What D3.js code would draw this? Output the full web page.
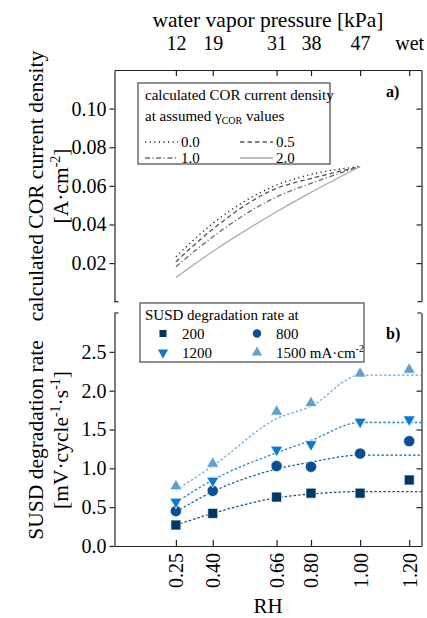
<!DOCTYPE html>
<html>
<head>
<meta charset="utf-8">
<script src="https://cdn.jsdelivr.net/npm/d3@7"></script>
<style>
  body { margin: 0; background: #fff; }
  svg text { font-family: 'Liberation Serif', 'Times New Roman', serif; }
</style>
</head>
<body>
<script>
// x positions shared by both panels (relative humidity) and the top pressure labels
const rhTicks = [0.25, 0.40, 0.66, 0.80, 1.00, 1.20];
const pressureLabels = ["12", "19", "31", "38", "47", "wet"];

// panel a) calculated COR current density for assumed gamma values
const corRH = [0.25, 0.40, 0.66, 0.80, 1.00];
const cor00 = [0.0233, 0.0405, 0.0604, 0.0659, 0.070];
const cor05 = [0.0207, 0.0376, 0.0587, 0.0638, 0.070];
const cor10 = [0.0181, 0.0336, 0.0543, 0.0613, 0.070];
const cor20 = [0.0125, 0.0260, 0.0466, 0.0566, 0.070];
const corTicks = [0.02, 0.04, 0.06, 0.08, 0.10];

// panel b) SUSD degradation rates
const rateRH = [0.25, 0.40, 0.66, 0.80, 1.00, 1.20];
const rate200 = [0.27, 0.42, 0.63, 0.68, 0.68, 0.85];
const rate800 = [0.45, 0.71, 1.03, 1.02, 1.19, 1.35];
const rate1200 = [0.57, 0.84, 1.24, 1.31, 1.60, 1.63];
const rate1500 = [0.77, 1.06, 1.73, 1.84, 2.22, 2.27];

// fitted guide lines (rise until RH 1.0, then flat)
const fitRH = [0.25, 0.40, 0.66, 0.80, 1.00, 1.25];
const fit200 = [0.27, 0.42, 0.62, 0.67, 0.70, 0.70];
const fit800 = [0.44, 0.70, 0.99, 1.08, 1.17, 1.17];
const fit1200 = [0.56, 0.85, 1.20, 1.36, 1.59, 1.59];
const fit1500 = [0.72, 1.03, 1.64, 1.80, 2.20, 2.20];
const rateTicks = [0.0, 0.5, 1.0, 1.5, 2.0, 2.5];

const FONT = "'Liberation Serif','Times New Roman',serif";
const AX = "#222";

const svg = d3.select("body").append("svg")
  .attr("width", 427)
  .attr("height", 618)
  .attr("font-family", FONT);

const x = d3.scaleLinear().domain([0, 1.25]).range([114.5, 421.5]);
const yA = d3.scaleLinear().domain([0, 0.12]).range([301.7, 70]);
const yB = d3.scaleLinear().domain([0, 3]).range([546, 313]);

const styleAxis = (g, size) => {
  g.attr("font-family", FONT).attr("font-size", size);
  g.selectAll("path, line").attr("stroke", AX).attr("stroke-width", 1.2);
  g.selectAll("text").attr("fill", "#000");
};

// ---------- panel a ----------
svg.append("g")
  .attr("transform", `translate(0,${yA.range()[1]})`)
  .call(d3.axisTop(x).tickValues(rhTicks).tickSizeInner(-6).tickSizeOuter(0)
    .tickPadding(20).tickFormat((d, i) => pressureLabels[i]))
  .call(g => styleAxis(g, 20));

svg.append("g")
  .attr("transform", `translate(${x(0)},0)`)
  .call(d3.axisLeft(yA).tickValues(corTicks).tickSizeInner(5).tickSizeOuter(0)
    .tickPadding(3).tickFormat(d3.format(".2f")))
  .call(g => styleAxis(g, 20));

svg.append("g")
  .attr("transform", `translate(${x(1.25)},0)`)
  .call(d3.axisRight(yA).tickValues(corTicks).tickSizeInner(-5).tickSizeOuter(0).tickFormat(""))
  .call(g => styleAxis(g, 20));

// little corner stubs at the bottom of panel a
[[x(0), x(0) + 4], [x(1.25), x(1.25) - 4]].forEach(([a, b]) => {
  svg.append("line")
    .attr("x1", a).attr("x2", b)
    .attr("y1", yA(0)).attr("y2", yA(0))
    .attr("stroke", AX).attr("stroke-width", 1.2);
});

svg.append("text")
  .attr("x", 268).attr("y", 27)
  .attr("text-anchor", "middle")
  .attr("font-size", 21.5)
  .text("water vapor pressure [kPa]");

const corSeries = [
  { label: "0.0", values: cor00, color: "#222", dash: "1.2,3.4", width: 1.4 },
  { label: "0.5", values: cor05, color: "#555", dash: "4.5,3", width: 1.3 },
  { label: "1.0", values: cor10, color: "#6a6a6a", dash: "5,2.5,1.2,2.5", width: 1.3 },
  { label: "2.0", values: cor20, color: "#aaa", dash: null, width: 1.3 }
];

const corLine = d3.line()
  .x((d, i) => x(corRH[i]))
  .y(d => yA(d))
  .curve(d3.curveMonotoneX);

corSeries.forEach(s => {
  svg.append("path")
    .datum(s.values)
    .attr("d", corLine)
    .attr("fill", "none")
    .attr("stroke", s.color)
    .attr("stroke-width", s.width)
    .attr("stroke-dasharray", s.dash);
});

// legend a
svg.append("rect")
  .attr("x", 138).attr("y", 83)
  .attr("width", 192).attr("height", 81)
  .attr("fill", "#fff").attr("stroke", "#555").attr("stroke-width", 1.3);

svg.append("text").attr("x", 145).attr("y", 100).attr("font-size", 15)
  .text("calculated COR current density");

const l2 = svg.append("text").attr("x", 145).attr("y", 121).attr("font-size", 15);
l2.append("tspan").text("at assumed γ");
l2.append("tspan").attr("font-size", 10).attr("dy", 3).text("COR");
l2.append("tspan").attr("dy", -3).text(" values");

corSeries.forEach((s, i) => {
  const col = i % 2, row = Math.floor(i / 2);
  const lx = col ? 240 : 145;
  const ly = row ? 158 : 142;
  svg.append("line")
    .attr("x1", lx).attr("x2", lx + 33)
    .attr("y1", ly).attr("y2", ly)
    .attr("stroke", s.color)
    .attr("stroke-width", s.width)
    .attr("stroke-dasharray", s.dash);
  svg.append("text")
    .attr("x", lx + 36).attr("y", ly + 5)
    .attr("font-size", 15)
    .text(s.label);
});

svg.append("text")
  .attr("x", 386).attr("y", 97)
  .attr("font-size", 16).attr("font-weight", "bold")
  .text("a)");

// y label a
const ya = svg.append("text")
  .attr("transform", "translate(43,186) rotate(-90)")
  .attr("text-anchor", "middle")
  .attr("font-size", 21.5);
ya.append("tspan").attr("x", 0).attr("y", 0).text("calculated COR current density");
const ya2 = ya.append("tspan").attr("x", 0).attr("y", 25);
ya2.append("tspan").text("[A·cm");
ya2.append("tspan").attr("font-size", 14).attr("dy", -8).text("-2");
ya2.append("tspan").attr("dy", 8).text("]");

// ---------- panel b ----------
const xb = svg.append("g")
  .attr("transform", `translate(0,${yB(0)})`)
  .call(d3.axisBottom(x).tickValues(rhTicks).tickSizeInner(-6).tickSizeOuter(0)
    .tickFormat(d3.format(".2f")))
  .call(g => styleAxis(g, 20));

xb.selectAll(".tick text")
  .attr("transform", "rotate(-90)")
  .attr("text-anchor", "end")
  .attr("x", -7)
  .attr("y", 0)
  .attr("dy", "0.35em");

svg.append("g")
  .attr("transform", `translate(${x(0)},0)`)
  .call(d3.axisLeft(yB).tickValues(rateTicks).tickSizeInner(5).tickSizeOuter(0)
    .tickPadding(3).tickFormat(d3.format(".1f")))
  .call(g => styleAxis(g, 20));

svg.append("g")
  .attr("transform", `translate(${x(1.25)},0)`)
  .call(d3.axisRight(yB).tickValues(rateTicks.slice(1)).tickSizeInner(-5).tickSizeOuter(0).tickFormat(""))
  .call(g => styleAxis(g, 20));

[[x(0), x(0) + 4], [x(1.25), x(1.25) - 4]].forEach(([a, b]) => {
  svg.append("line")
    .attr("x1", a).attr("x2", b)
    .attr("y1", yB(3)).attr("y2", yB(3))
    .attr("stroke", AX).attr("stroke-width", 1.2);
});

svg.append("text")
  .attr("x", 268).attr("y", 613)
  .attr("text-anchor", "middle")
  .attr("font-size", 21)
  .text("RH");

const yb = svg.append("text")
  .attr("transform", "translate(43,440) rotate(-90)")
  .attr("text-anchor", "middle")
  .attr("font-size", 21.5);
yb.append("tspan").attr("x", 0).attr("y", 0).text("SUSD degradation rate");
const yb2 = yb.append("tspan").attr("x", 0).attr("y", 25);
yb2.append("tspan").text("[mV·cycle");
yb2.append("tspan").attr("font-size", 14).attr("dy", -8).text("-1");
yb2.append("tspan").attr("dy", 8).text("·s");
yb2.append("tspan").attr("font-size", 14).attr("dy", -8).text("-1");
yb2.append("tspan").attr("dy", 8).text("]");

const rateSeries = [
  { label: "200", values: rate200, fit: fit200, color: "#003865", line: "#1f4f7e", symbol: d3.symbolSquare, size: 100, legSize: 50, rot: 0 },
  { label: "800", values: rate800, fit: fit800, color: "#0b4f92", line: "#1b5f9f", symbol: d3.symbolCircle, size: 100, legSize: 56, rot: 0 },
  { label: "1200", values: rate1200, fit: fit1200, color: "#0a79d2", line: "#2b84cf", symbol: d3.symbolTriangle, size: 64, legSize: 46, rot: 180 },
  { label: "1500", values: rate1500, fit: fit1500, color: "#62a1cf", line: "#6eaadb", symbol: d3.symbolTriangle, size: 64, legSize: 46, rot: 0 }
];

const fitLine = d3.line()
  .x((d, i) => x(fitRH[i]))
  .y(d => yB(d))
  .curve(d3.curveMonotoneX);

rateSeries.forEach(s => {
  svg.append("path")
    .datum(s.fit)
    .attr("d", fitLine)
    .attr("fill", "none")
    .attr("stroke", s.line)
    .attr("stroke-width", 1.3)
    .attr("stroke-dasharray", "2.5,2");
});

rateSeries.forEach(s => {
  svg.append("g").selectAll("path")
    .data(s.values)
    .join("path")
    .attr("d", d3.symbol(s.symbol, s.size))
    .attr("transform", (d, i) => `translate(${x(rateRH[i])},${yB(d)}) rotate(${s.rot})`)
    .attr("fill", s.color)
    .attr("stroke", "#fff")
    .attr("stroke-width", 0.7);
});

// legend b
svg.append("rect")
  .attr("x", 140).attr("y", 303)
  .attr("width", 224).attr("height", 59)
  .attr("fill", "#fff").attr("stroke", "#555").attr("stroke-width", 1.3);

svg.append("text").attr("x", 145).attr("y", 320).attr("font-size", 15)
  .text("SUSD degradation rate at");

rateSeries.forEach((s, i) => {
  const col = i % 2, row = Math.floor(i / 2);
  const mx = col ? 257 : 163;
  const my = row ? 352.5 : 333.5;
  svg.append("path")
    .attr("d", d3.symbol(s.symbol, s.legSize))
    .attr("transform", `translate(${mx},${my}) rotate(${s.rot})`)
    .attr("fill", s.color);
  const t = svg.append("text")
    .attr("x", mx + 19).attr("y", my + 5)
    .attr("font-size", 15);
  t.append("tspan").text(s.label);
  if (i === 3) {
    t.append("tspan").text(" mA·cm");
    t.append("tspan").attr("font-size", 10).attr("dy", -6).text("-2");
  }
});

svg.append("text")
  .attr("x", 386).attr("y", 339)
  .attr("font-size", 16).attr("font-weight", "bold")
  .text("b)");
</script>
</body>
</html>
